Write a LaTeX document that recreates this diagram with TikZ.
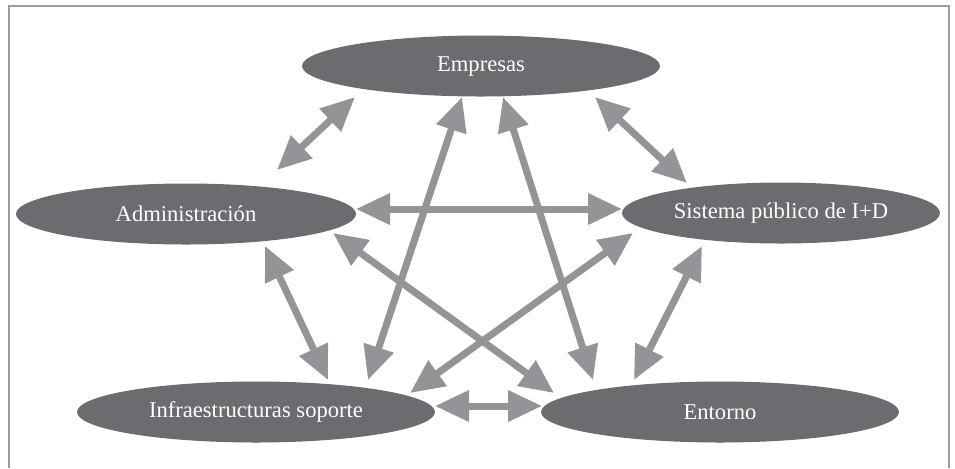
\documentclass[tikz,border=0pt]{standalone}
\usepackage{fontspec}
\setmainfont{Liberation Serif}
\usetikzlibrary{shapes.geometric,arrows.meta,calc}
\definecolor{cE}{HTML}{6B6C70}
\definecolor{cA}{HTML}{939498}
\definecolor{cF}{HTML}{9C9C9C}
\tikzset{myoval/.style={
  shape=ellipse,
  draw=none,
  fill=cE,
  inner sep=0pt,
  minimum height=30.5pt,
  text=white,
  font=\fontsize{11.3}{13}\selectfont,
  }
}
\tikzset{myarrow/.style={
  draw=cA,
  line width=3.5pt,
  {Triangle[length=17pt,width=15pt]}-{Triangle[length=17pt,width=15pt]},
  }
}
\tikzset{myframe/.style={
  draw=cF,
  line width=1pt,
  }
}
\begin{document}
\begin{tikzpicture}[x=0.5pt,y=-0.5pt]
  \useasboundingbox (0,0) rectangle (955,468);
  \draw[myframe] (9,468) -- (9,6) -- (949,6) -- (949,468);

  \node [myoval, minimum width=179pt] (emp) at (481,66) {Empresas};
  \node [myoval, minimum width=170pt] (adm) at (186,214) {Administración};
  \node [myoval, minimum width=159pt] (sis) at (781,213) {Sistema público de I+D};
  \node [myoval, minimum width=179pt] (inf) at (256,412) {Infraestructuras soporte};
  \node [myoval, minimum width=179pt] (ent) at (720,412) {Entorno};

  % arrows between the actors
  \draw[myarrow] ($(emp)+(-126,31)$) -- ($(adm)+(91,-44)$);
  \draw[myarrow] ($(emp)+(114,31)$) -- ($(sis)+(-94,-30)$);
  \draw[myarrow] ($(adm)+(170,-5)$) -- ($(sis)+(-159,-4)$);
  \draw[myarrow] ($(emp)+(-19,31)$) -- ($(inf)+(112,-32)$);
  \draw[myarrow] ($(emp)+(22,31)$) -- ($(ent)+(-127,-32)$);
  \draw[myarrow] ($(adm)+(79,32)$) -- ($(inf)+(72,-32)$);
  \draw[myarrow] ($(adm)+(147,19)$) -- ($(ent)+(-166,-19)$);
  \draw[myarrow] ($(sis)+(-148,20)$) -- ($(inf)+(154,-19)$);
  \draw[myarrow] ($(sis)+(-79,33)$) -- ($(ent)+(-86,-32)$);
  \draw[myarrow] ($(inf)+(179,-6)$) -- ($(ent)+(-178,-6)$);
\end{tikzpicture}
\end{document}
